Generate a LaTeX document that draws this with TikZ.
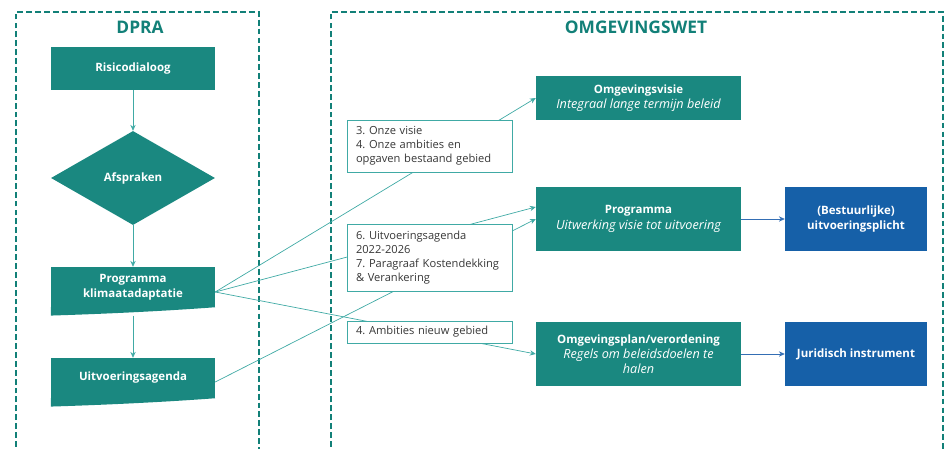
\documentclass[tikz,border=0pt]{standalone}
\usepackage{fontspec}
\setmainfont{Open Sans}
\usetikzlibrary{arrows.meta, shapes.geometric}

\definecolor{dpteal}{RGB}{26,136,128}
\definecolor{frameteal}{RGB}{18,128,120}
\definecolor{lineteal}{RGB}{64,170,165}
\definecolor{dpblue}{RGB}{22,96,168}
\definecolor{blueline}{RGB}{52,110,180}
\definecolor{txtgray}{RGB}{55,55,55}

\newcommand{\subline}[1]{{\mdseries\itshape\fontsize{10.8}{13}\selectfont #1}}
\frenchspacing

\begin{document}
\begin{tikzpicture}[
        frame/.style={draw=frameteal, line width=1.6pt,
                      dash pattern=on 5pt off 2.6pt},
        title/.style={text=frameteal, font=\fontsize{14.8}{18}\selectfont\bfseries},
        dbox/.style={rectangle, fill=dpteal, text=white, align=center,
                     minimum width=4.92cm, minimum height=1.29cm, inner sep=2pt,
                     font=\fontsize{9.8}{13}\selectfont\bfseries},
        obox/.style={dbox, minimum width=6.15cm, minimum height=1.92cm},
        bbox/.style={dbox, fill=dpblue, minimum width=4.26cm, minimum height=1.92cm},
        lbl/.style={rectangle, draw=lineteal, fill=white, text=txtgray,
                    align=left, text width=4.41cm, inner xsep=0.27cm,
                    font=\fontsize{9.5}{12}\selectfont},
        conn/.style={draw=lineteal, line width=0.6pt},
        >={Stealth[length=5pt, width=4.5pt]}
    ]
        \clip (0,0) rectangle (28.56,13.44);

        % kaders
        \draw[frame] (0.48,-0.5) rectangle (7.77,13.08);
        \draw[frame] (9.93,-0.5) rectangle (28.29,13.08);
        \node[title] (dpra) at (4.2,12.63) {DPRA};
        \node[title] (owet) at (19.08,12.63) {OMGEVINGSWET};

        % DPRA
        \node[dbox] (risico) at (3.99,11.385) {Risicodialoog};
        \node[dbox, diamond, minimum width=4.92cm, minimum height=2.82cm,
              inner sep=0pt] (afspr) at (3.99,8.1) {Afspraken};
        \node[dbox, minimum height=1.2cm] (prog) at (3.99,4.83)
            {Programma\\klimaatadaptatie};
        \node[dbox, minimum height=1.2cm] (uitv) at (3.99,2.10)
            {Uitvoeringsagenda};
        \foreach \n in {prog, uitv}
            \fill[dpteal] (\n.south west) -- ++(0,-0.25)
                .. controls +(1.6,0.05) and +(-1.6,-0.12) .. (\n.south east) -- cycle;

        \draw[conn, ->] (risico) -- (afspr);
        \draw[conn, ->] (afspr) -- (prog);
        \draw[conn, ->] ([yshift=-0.25cm]prog.south) -- (uitv);

        % Omgevingswet
        \node[obox, minimum height=1.32cm] (visie) at (19.155,10.5)
            {Omgevingsvisie\\\subline{Integraal lange termijn beleid}};
        \node[obox] (programma) at (19.155,6.87)
            {Programma\\\subline{Uitwerking visie tot uitvoering}};
        \node[obox] (plan) at (19.155,2.82)
            {Omgevingsplan/verordening\\\subline{Regels om beleidsdoelen te}\\\subline{halen}};
        \node[bbox] (plicht) at (25.68,6.87) {(Bestuurlijke)\\uitvoeringsplicht};
        \node[bbox] (jurid) at (25.68,2.82) {Juridisch instrument};

        \draw[blueline, line width=0.6pt, ->] (programma) -- (plicht);
        \draw[blueline, line width=0.6pt, ->] (plan) -- (jurid);

        % koppelingen
        \draw[conn, ->] ([yshift=-0.15cm]prog.east) -- (visie.west);
        \draw[conn, ->] ([yshift=-0.15cm]prog.east) -- ([yshift=0.36cm]programma.west);
        \draw[conn, ->] ([yshift=-0.15cm]prog.east) -- (plan.west);
        \draw[conn, ->] ([yshift=-0.12cm]uitv.east) -- (programma.west);

        \node[lbl, minimum height=1.56cm] (lab1) at (12.885,9.06)
            {3. Onze visie\\4. Onze ambities en\\opgaven bestaand gebied};
        \node[lbl, minimum height=2.01cm] (lab2) at (12.885,5.715)
            {6. Uitvoeringsagenda\\2022-2026\\7. Paragraaf Kostendekking\\\& Verankering};
        \node[lbl, minimum height=0.66cm] (lab3) at (12.885,3.48)
            {4. Ambities nieuw gebied};
    \end{tikzpicture}
\end{document}
